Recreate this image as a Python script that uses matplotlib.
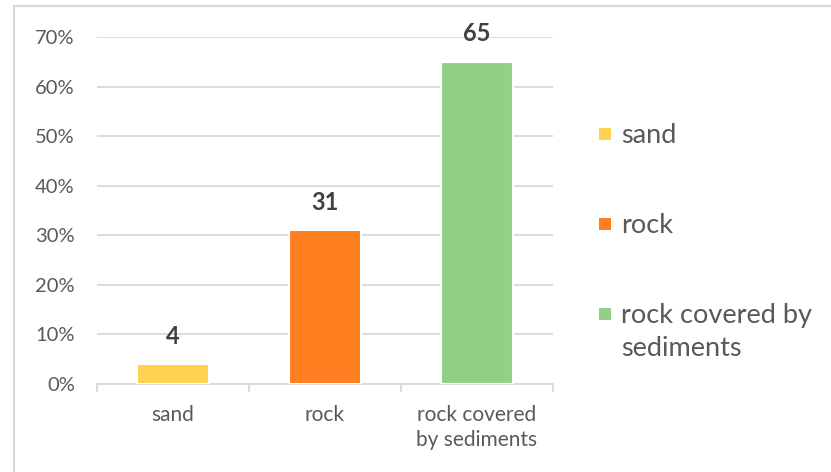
import matplotlib
matplotlib.use("Agg")
import matplotlib.pyplot as plt
from matplotlib.patches import Rectangle
from matplotlib.ticker import PercentFormatter

categories = ["sand", "rock", "rock covered\nby sediments"]
legend_labels = ["sand", "rock", "rock covered by\nsediments"]
values = [4, 31, 65]
colors = ["#FFD34F", "#FF7F20", "#93CF85"]

plt.rcParams["font.family"] = ["Lato", "DejaVu Sans"]
grey = "#595959"
line_grey = "#D9D9D9"

W, H = 831, 472
fig = plt.figure(figsize=(W / 100, H / 100), dpi=100)
ax = fig.add_axes([97 / W, 1 - 384 / H, 456 / W, 347 / H])

x = list(range(len(categories)))
ax.bar(x, values, width=0.47, color=colors, edgecolor="white", linewidth=1.5, zorder=3)

for xi, v in zip(x, values):
    ax.annotate(f"{v}", (xi, v), xytext=(0, 12), textcoords="offset points",
                ha="center", va="bottom", fontsize=17, fontweight="bold", color="#404040")

ax.set_xlim(-0.5, len(categories) - 0.5)
ax.set_ylim(0, 70)
ax.set_yticks(range(0, 71, 10))
ax.yaxis.set_major_formatter(PercentFormatter(xmax=100, decimals=0))
ax.grid(axis="y", color=line_grey, linewidth=1.3, zorder=0)

ax.set_xticks(x)
ax.set_xticklabels(categories, linespacing=1.3)
ax.set_xticks([i - 0.5 for i in range(len(categories) + 1)], minor=True)
ax.tick_params(axis="x", which="major", length=0, pad=15, labelsize=15, labelcolor=grey)
ax.tick_params(axis="x", which="minor", length=6, width=1.3, color=line_grey)
ax.tick_params(axis="y", length=0, pad=16, labelsize=14.5, labelcolor=grey)

for side in ["top", "right", "left"]:
    ax.spines[side].set_visible(False)
ax.spines["bottom"].set_color(line_grey)
ax.spines["bottom"].set_linewidth(1.3)

# legend: square key aligned with the first line of each label
key = 12
for i, (lab, c) in enumerate(zip(legend_labels, colors)):
    yc = 134 + 90 * i
    fig.patches.append(Rectangle((599 / W, 1 - (yc + key / 2) / H), key / W, key / H,
                                 transform=fig.transFigure, facecolor=c, edgecolor="none"))
    fig.text(621 / W, 1 - (yc - 11) / H, lab, fontsize=19.5, color=grey,
             ha="left", va="top", linespacing=1.38)

# light frame around the chart area
fig.patches.append(Rectangle((14 / W, -0.05), 1.1, 1 - 6 / H + 0.05,
                             transform=fig.transFigure, fill=False,
                             edgecolor=line_grey, linewidth=1.5))

fig.savefig("out.png", dpi=100)
